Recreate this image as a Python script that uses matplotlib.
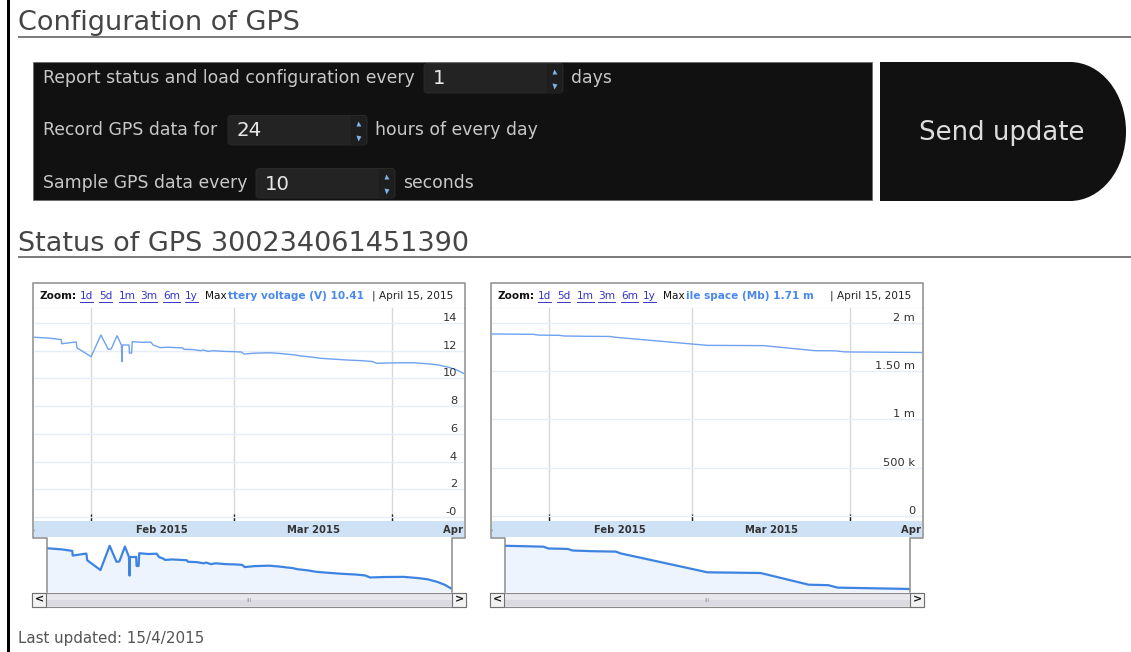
import matplotlib
matplotlib.use("Agg")
import matplotlib.pyplot as plt
import matplotlib.transforms as mtransforms
from matplotlib.patches import Rectangle, Ellipse, FancyBboxPatch
import pandas as pd

# ---------------- data ----------------
battery_dates = [
    "2015-01-21 00:00", "2015-01-24 00:00", "2015-01-26 06:00", "2015-01-26 08:00",
    "2015-01-29 04:00", "2015-01-29 08:00", "2015-02-01 02:00", "2015-02-03 00:00",
    "2015-02-04 10:00", "2015-02-05 00:00", "2015-02-06 04:00", "2015-02-07 00:00",
    "2015-02-07 03:00", "2015-02-07 05:00", "2015-02-08 12:00", "2015-02-08 14:00",
    "2015-02-09 00:00", "2015-02-09 03:00", "2015-02-11 00:00", "2015-02-12 18:00",
    "2015-02-13 06:00", "2015-02-14 00:00", "2015-02-14 12:00", "2015-02-16 00:00",
    "2015-02-19 00:00", "2015-02-19 06:00", "2015-02-21 00:00", "2015-02-22 12:00",
    "2015-02-23 00:00", "2015-02-24 00:00", "2015-02-25 00:00", "2015-02-27 00:00",
    "2015-03-01 00:00", "2015-03-02 12:00", "2015-03-03 00:00", "2015-03-05 00:00",
    "2015-03-08 00:00", "2015-03-10 00:00", "2015-03-13 00:00", "2015-03-14 00:00",
    "2015-03-16 00:00", "2015-03-18 00:00", "2015-03-20 00:00", "2015-03-23 00:00",
    "2015-03-26 00:00", "2015-03-28 00:00", "2015-03-29 00:00", "2015-04-01 00:00",
    "2015-04-05 00:00", "2015-04-08 00:00", "2015-04-10 00:00", "2015-04-12 00:00",
    "2015-04-13 12:00", "2015-04-15 00:00",
]
battery_volts = [
    12.97, 12.90, 12.80, 12.50,
    12.63, 12.20, 11.57, 13.13,
    12.10, 12.12, 13.08, 12.41,
    11.21, 12.41, 12.41, 11.83,
    11.83, 12.65, 12.60, 12.62,
    12.40, 12.32, 12.22, 12.25,
    12.20, 12.10, 12.08, 12.00,
    12.05, 11.95, 12.00, 11.95,
    11.93, 11.90, 11.76, 11.82,
    11.85, 11.80, 11.69, 11.62,
    11.55, 11.45, 11.40, 11.33,
    11.28, 11.22, 11.09, 11.12,
    11.13, 11.05, 10.97, 10.80,
    10.62, 10.35,
]
space_dates = [
    "2015-01-21", "2015-01-29", "2015-01-30", "2015-02-03", "2015-02-04",
    "2015-02-08", "2015-02-13", "2015-02-14", "2015-03-04", "2015-03-15",
    "2015-03-25", "2015-03-29", "2015-03-31", "2015-04-15",
]
space_bytes = [
    1886000, 1882000, 1874000, 1872000, 1865000,
    1862000, 1860000, 1852000, 1768000, 1765000,
    1713000, 1711000, 1700000, 1694000,
]
month_starts = ["2015-01-01", "2015-02-01", "2015-03-01", "2015-04-01", "2015-05-01"]
month_labels = ["Jan 2015", "Feb 2015", "Mar 2015", "Apr 2015"]
battery_ticks = [0, 2, 4, 6, 8, 10, 12, 14]
battery_tick_labels = ["-0", "2", "4", "6", "8", "10", "12", "14"]
space_ticks = [0, 500000, 1000000, 1500000, 2000000]
space_tick_labels = ["0", "500 k", "1 m", "1.50 m", "2 m"]
zoom_links = ["1d", "5d", "1m", "3m", "6m", "1y"]
config_labels = ["Report status and load configuration every",
                 "Record GPS data for", "Sample GPS data every"]
config_values = ["1", "24", "10"]
config_units = ["days", "hours of every day", "seconds"]
gps_id = "300234061451390"
report_date = "April 15, 2015"
last_updated = "15/4/2015"
battery_legend = "ttery voltage (V) 10.41"   # legend as visible (cut by the header)
space_legend = "ile space (Mb) 1.71 m"

# ---------------- figure ----------------
W, H = 1131, 652
fig = plt.figure(figsize=(W / 100, H / 100), dpi=100)
fig.patch.set_facecolor("white")
R = fig.canvas.get_renderer()

bg = fig.add_axes([0, 0, 1, 1])
bg.set_xlim(0, W)
bg.set_ylim(H, 0)
bg.axis("off")


def fax(x0, y0, x1, y1):
    return fig.add_axes([x0 / W, 1 - y1 / H, (x1 - x0) / W, (y1 - y0) / H])


def fit(t, w):
    t.set_fontsize(t.get_fontsize() * w / t.get_window_extent(renderer=R).width)
    return t.get_fontsize()


def ext(t):
    bb = t.get_window_extent(renderer=R).transformed(bg.transData.inverted())
    return min(bb.x0, bb.x1), max(bb.x0, bb.x1)


def bare(ax):
    for s in ax.spines.values():
        s.set_visible(False)
    ax.set_xticks([])
    ax.set_yticks([])


# left page bar
bg.add_patch(Rectangle((7, 0), 2.5, H, color="black", lw=0))

# headings
h1 = bg.text(18, 30, "Configuration of GPS", color="#454545", fontsize=17, va="baseline")
hfs = fit(h1, 282)
bg.text(18, 251, f"Status of GPS {gps_id}", color="#454545", fontsize=hfs, va="baseline")
bg.plot([18, W], [37, 37], color="#7a7a7a", lw=1.4, solid_capstyle="butt")
bg.plot([18, W], [257, 257], color="#7a7a7a", lw=1.4, solid_capstyle="butt")

# configuration panel
bg.add_patch(Rectangle((33, 62), 839, 138, facecolor="#111111", edgecolor="#6a6a6a", lw=0.6))
rows_y = [78, 130, 183]
box_x = [424, 228, 256]
label_fs = None
for y, bx, lab, val, unit in zip(rows_y, box_x, config_labels, config_values, config_units):
    t = bg.text(43, y, lab, color="#c8c8c8", fontsize=11, va="center")
    if label_fs is None:
        label_fs = fit(t, 370)
    else:
        t.set_fontsize(label_fs)
    bg.add_patch(FancyBboxPatch((bx, y - 14.5), 139, 29.5,
                                boxstyle="round,pad=0,rounding_size=3",
                                fc="#232323", ec="#2c2c2c", lw=0.6))
    bg.add_patch(Rectangle((bx + 123, y - 14), 15, 28.5, fc="#1e1e1e", lw=0))
    bg.text(bx + 9, y + 1, val, color="#e8e8e8", fontsize=label_fs * 1.15, va="center")
    bg.plot([bx + 130], [y - 7], marker="^", ms=3.6, color="#7fb2ea", mec="none")
    bg.plot([bx + 130], [y + 8], marker="v", ms=3.6, color="#7fb2ea", mec="none")
    bg.text(bx + 147, y, unit, color="#c8c8c8", fontsize=label_fs, va="center")

# send button
bg.add_patch(Rectangle((880, 62), 190, 139, fc="#111111", lw=0))
bg.add_patch(Ellipse((1070, 131.5), 112, 139, fc="#111111", lw=0))
sb = bg.text(1002, 133, "Send update", color="#dddddd", ha="center", va="center", fontsize=17)
fit(sb, 165)

# footer
ft = bg.text(18, 639, f"Last updated: {last_updated}", color="#555555", va="center", fontsize=10)
fit(ft, 187)

link_x = [47, 66, 86, 107, 130, 152]
ms = pd.to_datetime(month_starts)
hdr_fs = 7.6


def chart(x0, dates, values, ticks, labels, ylim, legend):
    d = pd.to_datetime(dates)
    xl = (d[0] - pd.Timedelta(hours=2), d[-1])

    # header bar
    bg.add_patch(Rectangle((x0, 283), 432, 25, fc="white", lw=0))
    bg.plot([x0, x0 + 432], [308, 308], color="#c4c4c4", lw=0.8)
    bg.text(x0 + 7, 296, "Zoom:", fontweight="bold", color="#111111", fontsize=hdr_fs, va="center")
    for lx, lab in zip(link_x, zoom_links):
        t = bg.text(x0 + lx, 296, lab, color="#3535c8", fontsize=hdr_fs, va="center")
        a, b = ext(t)
        bg.plot([a, b], [301.5, 301.5], color="#3535c8", lw=0.7)
    mx = bg.text(x0 + 172, 296, "Max", color="#111111", fontsize=hdr_fs, va="center")
    lx0 = ext(mx)[1] + 1.5
    bg.text(lx0, 296, legend, ha="left", va="center",
            color="#4a88ee", fontweight="bold", fontsize=hdr_fs)
    bg.text(x0 + 420, 296, f"| {report_date}", ha="right", va="center",
            color="#222222", fontsize=hdr_fs)

    # main plot
    ax = fax(x0 + 1, 308, x0 + 431, 521)
    for s in ax.spines.values():
        s.set_visible(False)
    ax.set_yticks(ticks)
    ax.set_xticks(ms)
    ax.set_xlim(xl)
    ax.set_ylim(ylim)
    ax.grid(axis="y", color="#e7edf6", lw=1)
    ax.grid(axis="x", color="#d6dbd6", lw=1)
    ax.tick_params(axis="y", length=0, labelleft=False)
    ax.tick_params(axis="x", direction="in", length=5, width=1, color="#222222", labelbottom=False)
    ax.plot(d, values, color="#6ea2f0", lw=1.0)
    tr = mtransforms.offset_copy(
        mtransforms.blended_transform_factory(ax.transAxes, ax.transData),
        fig=fig, y=5, units="dots")
    for v, lab in zip(ticks, labels):
        ax.text(0.984, v, lab, transform=tr, ha="right", va="center", fontsize=8.2, color="#333333")

    # month band
    band = fax(x0 + 1, 521, x0 + 431, 537)
    band.set_facecolor("#cfe1f5")
    bare(band)
    band.set_xlim(xl)
    band.set_ylim(0, 1)
    for i, lab in enumerate(month_labels):
        mid = ms[i] + (ms[i + 1] - ms[i]) / 2
        t = band.text(mid, 0.45, lab, ha="center", va="center", fontsize=7.2,
                      fontweight="bold", color="#333333", clip_on=True)
        t.set_clip_path(band.patch)

    # navigator
    nav = fax(x0 + 14, 538, x0 + 419, 592)
    nav.set_facecolor("white")
    bare(nav)
    lo, hi = min(values), max(values)
    r = hi - lo
    nyl = (lo - 0.07 * r, hi + 0.18 * r)
    nav.fill_between(d, values, nyl[0], color="#edf4fd", lw=0)
    nav.plot(d, values, color="#3d84e2", lw=1.6)
    nav.set_xlim(d[0], d[-1])
    nav.set_ylim(nyl)

    # scrollbar
    bg.add_patch(Rectangle((x0 - 1, 592.5), 434, 14, fc="#e8e8ec", ec="#8a8a8a", lw=0.8))
    bg.add_patch(Rectangle((x0 + 14, 600), 405, 6, fc="#dadae0", lw=0))
    for bx, sym in ((x0 - 1, "<"), (x0 + 419, ">")):
        bg.add_patch(Rectangle((bx, 592.5), 14, 14, fc="#f2f2f2", ec="#707070", lw=0.8))
        bg.text(bx + 7, 599.8, sym, ha="center", va="center", fontsize=8,
                fontweight="bold", color="#111111")
    bg.text(x0 + 216, 600, "III", ha="center", va="center", fontsize=4.5, color="#9a9a9a")


chart(33, battery_dates, battery_volts, battery_ticks, battery_tick_labels,
      (-0.29, 15.08), battery_legend)
chart(491, space_dates, space_bytes, space_ticks, space_tick_labels,
      (-52000, 2155000), space_legend)

# outlines on top
ov = fig.add_axes([0, 0, 1, 1])
ov.set_xlim(0, W)
ov.set_ylim(H, 0)
ov.axis("off")
ov.patch.set_alpha(0)
for x0 in (33, 491):
    ov.plot([x0 + 14, x0 + 14, x0, x0, x0 + 432, x0 + 432, x0 + 419, x0 + 419],
            [592, 538, 538, 283, 283, 538, 538, 592], color="#8c8c8c", lw=1.1)

fig.savefig("out.png", dpi=100, facecolor="white")
